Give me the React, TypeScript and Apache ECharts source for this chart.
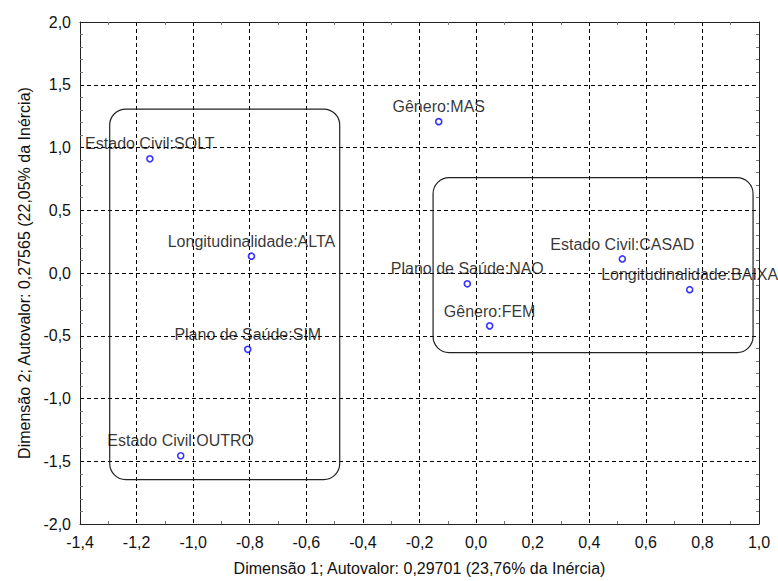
import React, { useEffect, useRef } from "react";
import * as echarts from "echarts";

const pointNames = [
  "Estado Civil:SOLT",
  "Longitudinalidade:ALTA",
  "Plano de Saúde:SIM",
  "Estado Civil:OUTRO",
  "Gênero:MAS",
  "Plano de Saúde:NAO",
  "Gênero:FEM",
  "Estado Civil:CASAD",
  "Longitudinalidade:BAIXA",
];
const dim1Values = [-1.153, -0.794, -0.807, -1.044, -0.132, -0.031, 0.048, 0.517, 0.755];
const dim2Values = [0.91, 0.134, -0.608, -1.456, 1.206, -0.086, -0.421, 0.112, -0.133];

// cluster boxes: [xMin, yMax, xMax, yMin]
const boxLeft = [-1.295, 1.306, -0.482, -1.646];
const boxRight = [-0.152, 0.76, 0.979, -0.634];

const xTitle = "Dimensão 1; Autovalor: 0,29701 (23,76% da Inércia)";
const yTitle = "Dimensão 2; Autovalor: 0,27565 (22,05% da Inércia)";

const FONT = "Arial, 'Liberation Sans', sans-serif";

const fmt = (v: number) => {
  const n = Math.abs(v) < 1e-9 ? 0 : v;
  return n.toFixed(1).replace(".", ",");
};

export default function App() {
  const ref = useRef<HTMLDivElement>(null);
  useEffect(() => {
    if (!ref.current) return;
    const chart = echarts.init(ref.current, null, { renderer: "svg" });
    const xBase = {
      min: -1.4,
      max: 1.0,
      interval: 0.2,
      axisLine: { show: true, onZero: false, lineStyle: { color: "#222", width: 1 } },
      axisTick: { show: false, inside: true },
      minorTick: { show: true, splitNumber: 2, length: 3, lineStyle: { color: "#777", width: 1 } },
      minorSplitLine: { show: false },
    };
    const yBase = {
      min: -2.0,
      max: 2.0,
      interval: 0.5,
      axisLine: { show: true, onZero: false, lineStyle: { color: "#222", width: 1 } },
      axisTick: { show: false, inside: true },
      minorTick: { show: true, splitNumber: 5, length: 3, lineStyle: { color: "#777", width: 1 } },
      minorSplitLine: { show: false },
    };
    const gridLine = { show: true, lineStyle: { color: "#000", type: [4, 3], width: 1 } };
    chart.setOption({
      animation: false,
      backgroundColor: "#fff",
      grid: { left: 80, top: 22, right: 19, bottom: 54, containLabel: false },
      xAxis: [
        {
          ...xBase,
          type: "value",
          position: "bottom",
          name: xTitle,
          nameLocation: "middle",
          nameGap: 36,
          nameTextStyle: { fontFamily: FONT, fontSize: 16, color: "#111" },
          axisLabel: { fontFamily: FONT, fontSize: 16, color: "#111", margin: 10, formatter: fmt },
          splitLine: gridLine,
        },
        {
          ...xBase,
          type: "value",
          position: "top",
          axisLabel: { show: false },
          splitLine: { show: false },
        },
      ],
      yAxis: [
        {
          ...yBase,
          type: "value",
          position: "left",
          name: yTitle,
          nameLocation: "middle",
          nameGap: 47,
          nameTextStyle: { fontFamily: FONT, fontSize: 16, color: "#111" },
          axisLabel: { fontFamily: FONT, fontSize: 16, color: "#111", margin: 9, formatter: fmt },
          splitLine: gridLine,
        },
        {
          ...yBase,
          type: "value",
          position: "right",
          axisLabel: { show: false },
          splitLine: { show: false },
        },
      ],
      series: [
        {
          type: "custom",
          xAxisIndex: 0,
          yAxisIndex: 0,
          clip: false,
          silent: true,
          encode: { x: [0, 2], y: [1, 3] },
          data: [boxLeft, boxRight],
          renderItem: (params: any, api: any) => {
            const p1 = api.coord([api.value(0), api.value(1)]);
            const p2 = api.coord([api.value(2), api.value(3)]);
            return {
              type: "rect",
              shape: {
                x: p1[0],
                y: p1[1],
                width: p2[0] - p1[0],
                height: p2[1] - p1[1],
                r: 16,
              },
              style: { fill: "none", stroke: "#222", lineWidth: 1.2 },
            };
          },
        },
        {
          type: "scatter",
          xAxisIndex: 0,
          yAxisIndex: 0,
          symbol: "circle",
          symbolSize: 6,
          itemStyle: { color: "#fff", borderColor: "#0000ff", borderWidth: 1.6 },
          label: {
            show: true,
            position: "top",
            distance: 3,
            fontFamily: FONT,
            fontSize: 16,
            color: "#000",
            formatter: (p: any) => p.name,
          },
          data: pointNames.map((n, i) => ({ name: n, value: [dim1Values[i], dim2Values[i]] })),
        },
      ],
    });
    return () => chart.dispose();
  }, []);
  return (
    <div
      ref={ref}
      style={{ position: "absolute", left: 0, top: 0, width: 778, height: 581, background: "#fff" }}
    />
  );
}
